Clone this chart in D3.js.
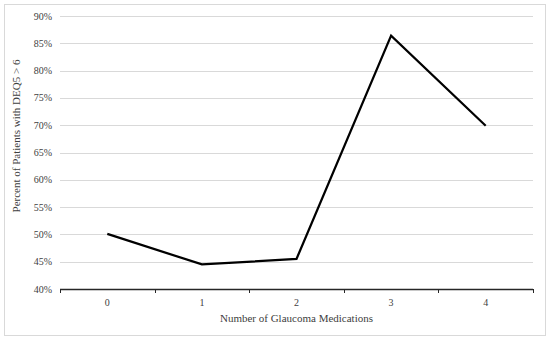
<!DOCTYPE html>
<html>
<head>
<meta charset="utf-8">
<script src="https://cdn.jsdelivr.net/npm/d3@7"></script>
<style>
  body { margin: 0; background: #fff; }
  text { font-family: "Liberation Serif", "DejaVu Serif", serif; fill: #404040; }
</style>
</head>
<body>
<svg id="chart" width="550" height="340"></svg>
<script>
// data
var medications = ['0', '1', '2', '3', '4'];
var percents = [0.501, 0.445, 0.455, 0.864, 0.699];
var yTicks = [0.40, 0.45, 0.50, 0.55, 0.60, 0.65, 0.70, 0.75, 0.80, 0.85, 0.90];

var width = 550, height = 340;
var plotLeft = 60, plotRight = 533, plotTop = 16, plotBottom = 289;

var svg = d3.select('#chart');

// outer frame
svg.append('rect')
    .attr('x', 4.5).attr('y', 4.5)
    .attr('width', 541).attr('height', 331)
    .attr('fill', '#fff')
    .attr('stroke', '#d9d9d9')
    .attr('stroke-width', 1);

var x = d3.scaleBand()
    .domain(medications)
    .range([plotLeft, plotRight]);

var y = d3.scaleLinear()
    .domain([0.40, 0.90])
    .range([plotBottom, plotTop]);

// gridlines
svg.append('g')
    .selectAll('line')
    .data(yTicks.slice(1))
    .enter().append('line')
    .attr('x1', plotLeft).attr('x2', plotRight)
    .attr('y1', d => Math.round(y(d)) + 0.5)
    .attr('y2', d => Math.round(y(d)) + 0.5)
    .attr('stroke', '#d9d9d9')
    .attr('stroke-width', 1);

// y tick labels
svg.append('g')
    .selectAll('text')
    .data(yTicks)
    .enter().append('text')
    .attr('x', 52)
    .attr('y', d => y(d))
    .attr('dy', '0.35em')
    .attr('text-anchor', 'end')
    .style('font-size', '10px')
    .text(d => d3.format('.0%')(d));

// x axis line and tick marks on band edges
var xAxis = svg.append('g');
xAxis.append('line')
    .attr('x1', plotLeft).attr('x2', plotRight)
    .attr('y1', plotBottom + 0.5).attr('y2', plotBottom + 0.5)
    .attr('stroke', '#262626')
    .attr('stroke-width', 1.3);

var edges = medications.map(d => x(d)).concat([plotRight]);
xAxis.selectAll('.tick')
    .data(edges)
    .enter().append('line')
    .attr('class', 'tick')
    .attr('x1', d => Math.round(d) + 0.5).attr('x2', d => Math.round(d) + 0.5)
    .attr('y1', plotBottom).attr('y2', plotBottom + 4)
    .attr('stroke', '#262626')
    .attr('stroke-width', 1);

xAxis.selectAll('.label')
    .data(medications)
    .enter().append('text')
    .attr('class', 'label')
    .attr('x', d => x(d) + x.bandwidth() / 2)
    .attr('y', 302)
    .attr('dy', '0.35em')
    .attr('text-anchor', 'middle')
    .style('font-size', '10px')
    .text(d => d);

// axis titles
svg.append('text')
    .attr('x', (plotLeft + plotRight) / 2)
    .attr('y', 318)
    .attr('dy', '0.35em')
    .attr('text-anchor', 'middle')
    .style('font-size', '11px')
    .text('Number of Glaucoma Medications');

svg.append('text')
    .attr('transform', 'translate(16,136) rotate(-90)')
    .attr('dy', '0.35em')
    .attr('text-anchor', 'middle')
    .style('font-size', '11px')
    .text('Percent of Patients with DEQ5 > 6');

// data line
var line = d3.line()
    .x((d, i) => x(medications[i]) + x.bandwidth() / 2)
    .y(d => y(d));

svg.append('path')
    .datum(percents)
    .attr('d', line)
    .attr('fill', 'none')
    .attr('stroke', '#000')
    .attr('stroke-width', 2.25)
    .attr('stroke-linejoin', 'miter');
</script>
</body>
</html>
